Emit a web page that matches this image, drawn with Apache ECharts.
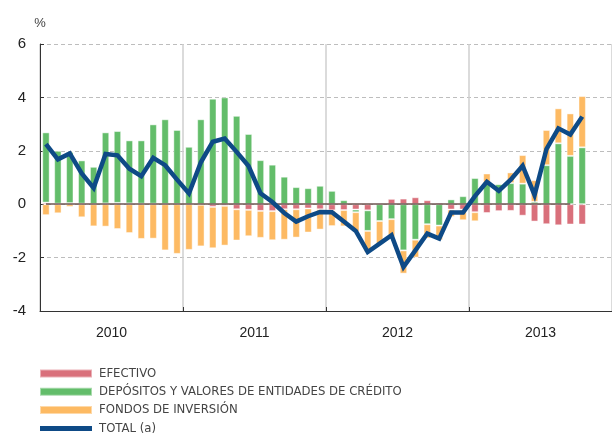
<!DOCTYPE html>
<html>
<head>
<meta charset="utf-8">
<script src="https://cdn.jsdelivr.net/npm/echarts@6/dist/echarts.min.js"></script>
<style>
  html, body { margin: 0; padding: 0; background: #fff; }
  #chart { width: 612px; height: 434px; }
</style>
</head>
<body>
<div id="chart"></div>
<script>
var years = ["2010", "2011", "2012", "2013"];
var months = ["01", "02", "03", "04", "05", "06", "07", "08", "09", "10", "11", "12"];

// monthly values, % (Jan 2010 - Oct 2013)
var efectivo = [
  0.06, 0.02, 0.04, 0.02, 0.01, 0.03, 0.05, 0.03, 0.02, 0.02, 0.01, 0.01,
  0, -0.02, -0.1, -0.06, -0.19, -0.21, -0.25, -0.26, -0.19, -0.19, -0.16, -0.19,
  -0.23, -0.22, -0.2, -0.23, 0, 0.2, 0.21, 0.26, 0.15, 0.06, -0.2, -0.2,
  -0.3, -0.33, -0.26, -0.25, -0.43, -0.65, -0.75, -0.79, -0.76, -0.76
];
var depositos = [
  2.63, 1.98, 1.92, 1.62, 1.39, 2.66, 2.69, 2.36, 2.37, 2.97, 3.17, 2.77,
  2.15, 3.18, 3.95, 4.0, 3.31, 2.63, 1.65, 1.48, 1.03, 0.64, 0.6, 0.69,
  0.5, 0.15, -0.1, -0.77, -0.63, -0.56, -1.73, -1.33, -0.75, -0.8, 0.18, 0.3,
  0.98, 0.76, 0.75, 0.79, 0.77, 0.09, 1.46, 2.28, 1.81, 2.13
];
var fondos = [
  -0.41, -0.34, -0.1, -0.49, -0.83, -0.84, -0.93, -1.08, -1.3, -1.29, -1.73, -1.86,
  -1.71, -1.56, -1.55, -1.49, -1.17, -0.99, -1.01, -1.09, -1.14, -1.06, -0.9, -0.76,
  -0.59, -0.61, -0.74, -0.8, -0.85, -0.67, -0.87, -0.67, -0.53, -0.55, -0.28, -0.4,
  -0.34, 0.39, 0.03, 0.4, 1.07, 0.81, 1.32, 1.31, 1.59, 1.92
];
var total = [
  2.25, 1.68, 1.9, 1.15, 0.61, 1.88, 1.83, 1.33, 1.05, 1.74, 1.46, 0.92,
  0.4, 1.57, 2.34, 2.46, 1.96, 1.43, 0.41, 0.08, -0.33, -0.65, -0.45, -0.29,
  -0.3, -0.65, -1.0, -1.79, -1.48, -1.16, -2.35, -1.73, -1.1, -1.29, -0.31, -0.31,
  0.3, 0.84, 0.5, 0.92, 1.44, 0.34, 2.06, 2.84, 2.61, 3.28
];

var categories = [];
years.forEach(function (y) {
  months.forEach(function (m) { categories.push(y + "-" + m); });
});

var font = "'Liberation Sans', Arial, sans-serif";
var narrow = "'Liberation Sans Narrow', 'DejaVu Sans Condensed', sans-serif";

var barStyle = function (color) {
  return { color: color, borderColor: "rgba(255,255,255,0.45)", borderWidth: 1 };
};

var myChart = echarts.init(document.getElementById("chart"));
var option = {
  animation: false,
  grid: { left: 40, right: 0, top: 44, bottom: 123 },
  legend: {
    orient: "vertical",
    left: 39,
    top: 367,
    height: 100,
    padding: 0,
    itemWidth: 52,
    itemHeight: 8,
    itemGap: 5.3,
    textStyle: { fontFamily: narrow, fontSize: 13, color: "#444", lineHeight: 11, padding: [0, 0, 0, 2] },
    data: [
      { name: "EFECTIVO", icon: "rect" },
      { name: "DEPÓSITOS Y VALORES DE ENTIDADES DE CRÉDITO", icon: "rect" },
      { name: "FONDOS DE INVERSIÓN", icon: "rect" },
      { name: "TOTAL (a)", icon: "path://M0,0H104V10H0Z" }
    ]
  },
  xAxis: [
    {
      type: "category",
      data: categories,
      show: false
    },
    {
      type: "category",
      data: years,
      position: "bottom",
      boundaryGap: true,
      axisLine: { lineStyle: { color: "#333", width: 1 } },
      axisTick: { show: true, inside: true, length: 4, lineStyle: { color: "#333" } },
      axisLabel: { fontFamily: font, fontSize: 14, color: "#222", margin: 15 },
      splitLine: { show: true, lineStyle: { color: "#cfcfcf", width: 1.5 } }
    }
  ],
  yAxis: {
    type: "value",
    min: -4,
    max: 6,
    interval: 2,
    name: "%",
    nameGap: 14,
    nameTextStyle: { fontFamily: font, fontSize: 13, color: "#444" },
    axisLine: { show: true, lineStyle: { color: "#333" } },
    axisTick: { show: true, inside: true, length: 4, lineStyle: { color: "#333" } },
    axisLabel: { fontFamily: font, fontSize: 15, color: "#222", margin: 14 },
    splitLine: { show: true, lineStyle: { color: "#bdbdbd", type: [4, 3] } }
  },
  series: [
    {
      name: "EFECTIVO",
      type: "bar",
      stack: "a",
      xAxisIndex: 0,
      barWidth: "62%",
      data: efectivo,
      itemStyle: barStyle("#d9707b")
    },
    {
      name: "DEPÓSITOS Y VALORES DE ENTIDADES DE CRÉDITO",
      type: "bar",
      stack: "a",
      xAxisIndex: 0,
      barWidth: "62%",
      data: depositos,
      itemStyle: barStyle("#63bd6a")
    },
    {
      name: "FONDOS DE INVERSIÓN",
      type: "bar",
      stack: "a",
      xAxisIndex: 0,
      barWidth: "62%",
      data: fondos,
      itemStyle: barStyle("#fdba63"),
      markLine: {
        symbol: "none",
        silent: true,
        label: { show: false },
        lineStyle: { color: "#6e5550", width: 1.5, type: "solid", opacity: 1 },
        data: [[{ xAxis: 0, yAxis: 0 }, { xAxis: 44, yAxis: 0 }]]
      }
    },
    {
      name: "TOTAL (a)",
      type: "line",
      xAxisIndex: 0,
      data: total,
      symbol: "none",
      z: 5,
      lineStyle: { color: "#0e4a86", width: 4.5, join: "miter" },
      itemStyle: { color: "#0e4a86" }
    }
  ]
};
myChart.setOption(option);
</script>
</body>
</html>
